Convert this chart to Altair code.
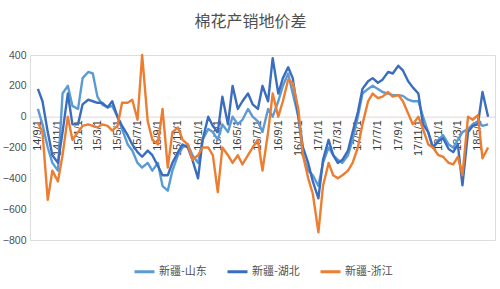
import altair as alt
import pandas as pd

# semi-monthly observations, 2014-09-01 .. 2018-06-01
dates = pd.date_range("2014-09-01", "2018-06-01", freq="SMS")

series_names = ["新疆-山东", "新疆-湖北", "新疆-浙江"]
series_colors = ["#5B9BD5", "#3B6DBE", "#ED7D31"]

shandong = [50, -50, -200, -300, -350, 150, 200, 70, 50, 250,
            290, 280, 130, 80, 60, 70, 0, -80, -180, -220,
            -300, -330, -300, -350, -300, -450, -480, -350, -250, -200,
            -180, -250, -300, -150, -80, -100, -150, -50, -100, 0,
            -50, -20, 50, 0, -30, -100, 50, 0, 100, 200,
            280, 150, 0, -250, -350, -380, -450, -300, -200, -250,
            -280, -300, -250, -150, 0, 150, 180, 200, 180, 160,
            150, 140, 140, 135, 110, 100, 100, 0, -100, -200,
            -150, -120, -180, -200, -150, -100, -80, -50, -30, -60,
            -50]

hubei = [180, 100, -100, -250, -300, -100, 150, -50, -50, 80,
         110, 100, 90, 90, 60, 100, 0, -60, -120, -180,
         -230, -260, -220, -250, -320, -380, -380, -300, -230, -180,
         -200, -280, -400, -150, 0, -60, -100, 130, -50, 200,
         50, 100, 150, 80, 50, 200, 100, 380, 150, 250,
         320, 250, 0, -200, -300, -420, -530, -280, -150, -250,
         -300, -280, -220, -100, 30, 180, 230, 250, 220, 240,
         290, 280, 330, 300, 230, 190, 150, -50, -100, -200,
         -160, -140, -210, -230, -180, -445, -100, -60, -50, 160,
         0]

zhejiang = [-40, -100, -540, -350, -420, -250, 0, -150, -100, -60,
            -50, -60, -70, -50, -60, -90, -60, 90, 90, 110,
            -20, 400, -30, -150, -180, 50, -330, -100, -70, -150,
            -180, -280, -250, -200, -200, -250, -490, -200, -250, -300,
            -250, -310, -250, -200, -150, -350, -100, 150, 0, 100,
            240, 220, 50, -250, -400, -500, -750, -450, -300, -380,
            -400, -380, -350, -300, -200, -50, 100, 150, 120, 130,
            160, 130, 140, 100, 20, -50, 0, -80, -180, -200,
            -250, -260, -300, -310, -260, -380, 0, -20, 10, -270,
            -200]

y_ticks = [-800, -600, -400, -200, 0, 200, 400]
x_tick_months = [(2014, 9), (2014, 11), (2015, 1), (2015, 3), (2015, 5), (2015, 7),
                 (2015, 9), (2015, 11), (2016, 1), (2016, 3), (2016, 5), (2016, 7),
                 (2016, 9), (2016, 11), (2017, 1), (2017, 3), (2017, 5), (2017, 7),
                 (2017, 9), (2017, 11), (2018, 1), (2018, 3), (2018, 5)]

date_str = [d.strftime("%Y-%m-%dT00:00:00") for d in dates]
rows = []
for name, vals in zip(series_names, [shandong, hubei, zhejiang]):
    for d, v in zip(date_str, vals):
        rows.append({"date": d, "series": name, "value": v})
df = pd.DataFrame(rows)

W, H = 465, 185
zero_offset = -(H - H * 400 / 1200)

chart = alt.Chart(df).mark_line(strokeWidth=2.4, strokeJoin="round").encode(
    x=alt.X("date:T",
            scale=alt.Scale(domain=[alt.DateTime(year=2014, month=8, date=8),
                                    alt.DateTime(year=2018, month=6, date=22)]),
            axis=alt.Axis(values=[alt.DateTime(year=y, month=m, date=1) for y, m in x_tick_months],
                          format="%y/%-m/%-d", labelAngle=270, offset=zero_offset,
                          ticks=False, domainColor="#e3d6d6", domainWidth=1,
                          labelFontSize=11, labelColor="#3a3a3a", labelPadding=3,
                          labelFont="Liberation Sans",
                          grid=False, title=None, labelOverlap=False)),
    y=alt.Y("value:Q",
            scale=alt.Scale(domain=[-800, 400], nice=False),
            axis=alt.Axis(values=y_ticks, ticks=False, domain=False, grid=False,
                          labelColor="#505050", labelFontSize=10.5, labelPadding=4,
                          labelFont="Liberation Sans", title=None)),
    color=alt.Color("series:N",
                    scale=alt.Scale(domain=series_names, range=series_colors),
                    sort=series_names,
                    legend=alt.Legend(orient="none", legendX=103, legendY=205,
                                      direction="horizontal", title=None,
                                      symbolType="stroke", symbolStrokeWidth=3,
                                      symbolSize=400, labelFontSize=11,
                                      labelColor="#505050", labelFont="Noto Sans CJK SC",
                                      columnPadding=14, labelOffset=3)),
).properties(
    width=W, height=H,
    title=alt.Title("棉花产销地价差", fontSize=16, color="#505050",
                    font="Noto Sans CJK SC", fontWeight="normal", offset=20, dx=-12),
    autosize=alt.AutoSizeParams(type="none"),
    padding={"left": 30, "top": 55, "right": 5, "bottom": 49},
).configure_view(stroke=None).configure(background="white")

chart.save("out.html", embed_options={"renderer": "svg", "actions": False})
